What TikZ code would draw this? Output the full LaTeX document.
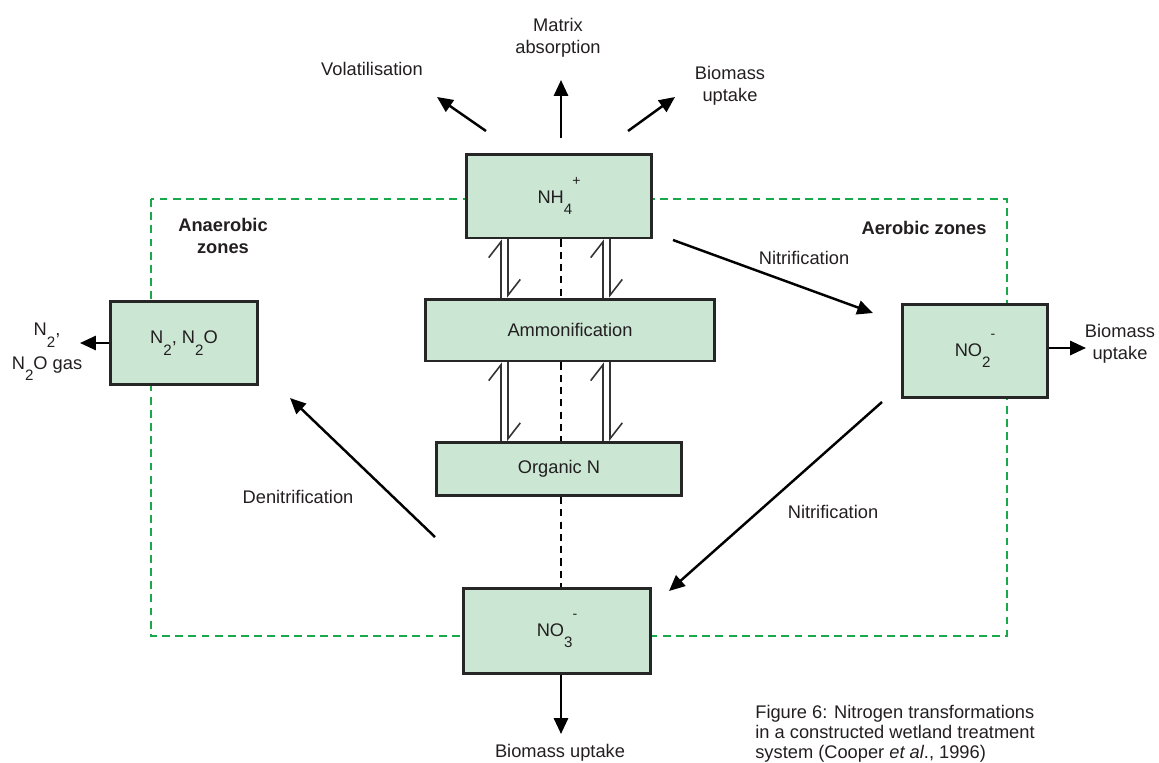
\documentclass[tikz,border=0pt]{standalone}
\usepackage{fontspec}
\setmainfont{Liberation Sans}
\usetikzlibrary{arrows.meta,calc}
\definecolor{boxgreen}{HTML}{CBE7D3}
\definecolor{zonegreen}{HTML}{19A84B}
\definecolor{ink}{HTML}{231F20}
\newcommand{\lowidx}[1]{\raisebox{-0.62em}{\fontsize{8.6}{8.6}\selectfont #1}}
\newcommand{\highidx}[1]{\raisebox{0.95em}{\fontsize{8}{8}\selectfont #1}}

\begin{document}
\begin{tikzpicture}[x=0.02cm,y=-0.02cm,
  font=\fontsize{10.4}{12.8}\selectfont, text=ink,
  box/.style={draw=black!85,line width=1.7pt,fill=boxgreen,inner sep=0pt},
  arr/.style={line width=1.4pt,-{Triangle[length=9pt,width=8pt]}},
  eq/.style={line width=0.9pt,black!80,-{Straight Barb[harpoon,length=9pt,width=14pt]}},
  dots/.style={line width=1.3pt,dash pattern=on 4pt off 3pt},
  zone/.style={zonegreen,line width=1.5pt,dash pattern=on 4.5pt off 3pt}]
\useasboundingbox (0,0) rectangle (1159,762);

\draw[zone] (151,199) rectangle (1007,636);

%Boxes
\node[box,minimum width=3.72cm,minimum height=1.68cm] (NH) at (559,196) {NH\lowidx{4}\highidx{+}};
\node[box,minimum width=5.8cm,minimum height=1.24cm] (Amm) at (570,330) {Ammonification};
\node[box,minimum width=4.9cm,minimum height=1.06cm] (Org) at (559,469) {Organic N};
\node[box,minimum width=2.94cm,minimum height=1.66cm] (N2) at (184,343) {N\lowidx{2}, N\lowidx{2}O};
\node[box,minimum width=2.9cm,minimum height=1.86cm] (NO2) at (975,351) {NO\lowidx{2}\highidx{-}};
\node[box,minimum width=3.76cm,minimum height=1.7cm] (NO3) at (557,631) {NO\lowidx{3}\highidx{-}};

%Labels
\node (vol) at (372,69) {Volatilisation};
\node[align=center] (mat) at (558,38) {Matrix\\absorption};
\node[align=center] (bioA) at (730,86) {Biomass\\uptake};
\node[align=center] (bioB) at (1120,344) {Biomass\\uptake};
\node (bioC) at (560,753) {Biomass uptake};
\node[align=center,font=\fontsize{10.4}{19}\selectfont] (gas) at (47,352) {N\lowidx{2},\\N\lowidx{2}O gas};
\node[align=center,font=\fontsize{10.4}{12.8}\selectfont\bfseries] (ana) at (223,236) {Anaerobic\\zones};
\node[font=\fontsize{10.4}{12.8}\selectfont\bfseries] (aer) at (924,228) {Aerobic zones};
\node (nitA) at (804,258) {Nitrification};
\node (nitB) at (833,512) {Nitrification};
\node (den) at (298,497) {Denitrification};
\node[align=left,anchor=north west,inner sep=0pt,font=\fontsize{10.4}{11.4}\selectfont] (cap) at (755,705)
  {Figure 6: Nitrogen transformations\\in a constructed wetland treatment\\system (Cooper \textit{et al}., 1996)};

%Arrow ends
\coordinate (volS) at (486,131); \coordinate (volE) at (437,97);
\coordinate (matS) at (561,138); \coordinate (matE) at (561,80);
\coordinate (bioS) at (628,131); \coordinate (bioE) at (675,97);
\coordinate (nitAS) at (673,240); \coordinate (nitAE) at (873,313);
\coordinate (nitBS) at (882,402); \coordinate (nitBE) at (669,591);
\coordinate (denS) at (435,537); \coordinate (denE) at (290,398);
\coordinate (gasE) at (80,343);
\coordinate (bioBE) at (1086,348);
\coordinate (bioCE) at (561,734);

\draw[arr] (volS) -- (volE);
\draw[arr] (matS) -- (matE);
\draw[arr] (bioS) -- (bioE);
\draw[arr] (nitAS) -- (nitAE);
\draw[arr] (nitBS) -- (nitBE);
\draw[arr] (denS) -- (denE);
\draw[arr] (N2.west) -- (gasE);
\draw[arr] (NO2.east |- bioBE) -- (bioBE);
\draw[arr] (NO3.south -| bioCE) -- (bioCE);

%Dotted links
\draw[dots] (NH.south -| 561,0) -- (Amm.north -| 561,0);
\draw[dots] (Amm.south -| 561,0) -- (Org.north -| 561,0);
\draw[dots] (Org.south -| 561,0) -- (NO3.north -| 561,0);

%Equilibrium arrows
\foreach \u/\d in {501/508,603/610}{
  \draw[eq] (Amm.north -| \u,0) -- (NH.south -| \u,0);
  \draw[eq] (NH.south -| \d,0) -- (Amm.north -| \d,0);
  \draw[eq] (Org.north -| \u,0) -- (Amm.south -| \u,0);
  \draw[eq] (Amm.south -| \d,0) -- (Org.north -| \d,0);
}
\end{tikzpicture}
\end{document}
